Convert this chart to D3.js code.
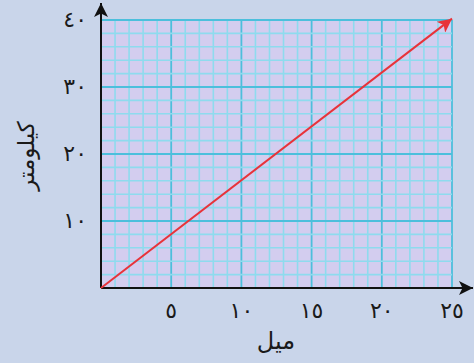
<!DOCTYPE html>
<html>
<head>
<meta charset="utf-8">
<script src="https://cdn.jsdelivr.net/npm/d3@7"></script>
<style>
  html, body { margin: 0; padding: 0; background: #c9d5ea; }
  svg { display: block; }
</style>
</head>
<body>
<div id="chart"></div>
<script>
// miles -> kilometres conversion line
var miles = [0, 25];
var km = [0, 40.2];

var xTicks = [5, 10, 15, 20, 25];
var xTickLabels = ["٥", "١٠", "١٥", "٢٠", "٢٥"];
var yTicks = [10, 20, 30, 40];
var yTickLabels = ["١٠", "٢٠", "٣٠", "٤٠"];

var xTitle = "ميل";
var yTitle = "كيلومتر";

var W = 474, H = 363;
var x = d3.scaleLinear().domain([0, 25]).range([101, 452]);
var y = d3.scaleLinear().domain([0, 40]).range([288, 20]);

var svg = d3.select("#chart").append("svg")
    .attr("width", W).attr("height", H);

svg.append("rect").attr("width", W).attr("height", H).attr("fill", "#c9d5ea");

var defs = svg.append("defs");
function marker(id, color, w, h) {
    defs.append("marker")
        .attr("id", id)
        .attr("viewBox", "0 0 10 10")
        .attr("refX", 10).attr("refY", 5)
        .attr("markerUnits", "userSpaceOnUse")
        .attr("markerWidth", w).attr("markerHeight", h)
        .attr("orient", "auto")
        .append("path")
        .attr("d", "M0,0 L10,5 L0,10 L2.5,5 Z")
        .attr("fill", color);
}
marker("arrBlack", "#111", 18, 14);
marker("arrRed", "#e8333a", 18, 14);

// graph paper
svg.append("rect")
    .attr("x", x(0)).attr("y", y(40))
    .attr("width", x(25) - x(0)).attr("height", y(0) - y(40))
    .attr("fill", "#d3cdef");

var grid = svg.append("g");
grid.selectAll("line.vmin").data(d3.range(1, 26))
    .enter().append("line")
    .attr("x1", function (d) { return x(d); }).attr("x2", function (d) { return x(d); })
    .attr("y1", y(0)).attr("y2", y(40))
    .attr("stroke", function (d) { return d % 5 === 0 ? "#4cbfdc" : "#8edbee"; })
    .attr("stroke-width", function (d) { return d % 5 === 0 ? 1.8 : 1.6; });

grid.selectAll("line.hmin").data(d3.range(2, 41, 2))
    .enter().append("line")
    .attr("y1", function (d) { return y(d); }).attr("y2", function (d) { return y(d); })
    .attr("x1", x(0)).attr("x2", x(25))
    .attr("stroke", function (d) { return d % 10 === 0 ? "#4cbfdc" : "#8edbee"; })
    .attr("stroke-width", function (d) { return d % 10 === 0 ? 1.8 : 1.6; });

// axes with arrows
svg.append("line")
    .attr("x1", x(0)).attr("y1", y(0))
    .attr("x2", 473).attr("y2", y(0))
    .attr("stroke", "#111").attr("stroke-width", 2)
    .attr("marker-end", "url(#arrBlack)");
svg.append("line")
    .attr("x1", x(0)).attr("y1", y(0))
    .attr("x2", x(0)).attr("y2", 3)
    .attr("stroke", "#111").attr("stroke-width", 2)
    .attr("marker-end", "url(#arrBlack)");

// conversion line
svg.append("path")
    .datum(miles.map(function (m, i) { return [m, km[i]]; }))
    .attr("d", d3.line().x(function (d) { return x(d[0]); }).y(function (d) { return y(d[1]); }))
    .attr("fill", "none")
    .attr("stroke", "#e8333a").attr("stroke-width", 2)
    .attr("marker-end", "url(#arrRed)");

// tick labels
var font = "'DejaVu Sans', sans-serif";
svg.selectAll("text.xt").data(xTicks)
    .enter().append("text")
    .attr("x", function (d) { return x(d); })
    .attr("y", 318)
    .attr("text-anchor", "middle")
    .attr("font-family", font).attr("font-size", 22)
    .attr("fill", "#1a1a1a")
    .text(function (d, i) { return xTickLabels[i]; });

svg.selectAll("text.yt").data(yTicks)
    .enter().append("text")
    .attr("x", 87)
    .attr("y", function (d) { return y(d) + 7; })
    .attr("text-anchor", "end")
    .attr("font-family", font).attr("font-size", 22)
    .attr("fill", "#1a1a1a")
    .text(function (d, i) { return yTickLabels[i]; });

// axis titles
svg.append("text")
    .attr("x", 276).attr("y", 349)
    .attr("text-anchor", "middle")
    .attr("font-family", font).attr("font-size", 24)
    .attr("fill", "#1a1a1a")
    .text(xTitle);

svg.append("text")
    .attr("transform", "translate(34,156) rotate(-90)")
    .attr("text-anchor", "middle")
    .attr("font-family", font).attr("font-size", 23)
    .attr("fill", "#1a1a1a")
    .text(yTitle);
</script>
</body>
</html>
